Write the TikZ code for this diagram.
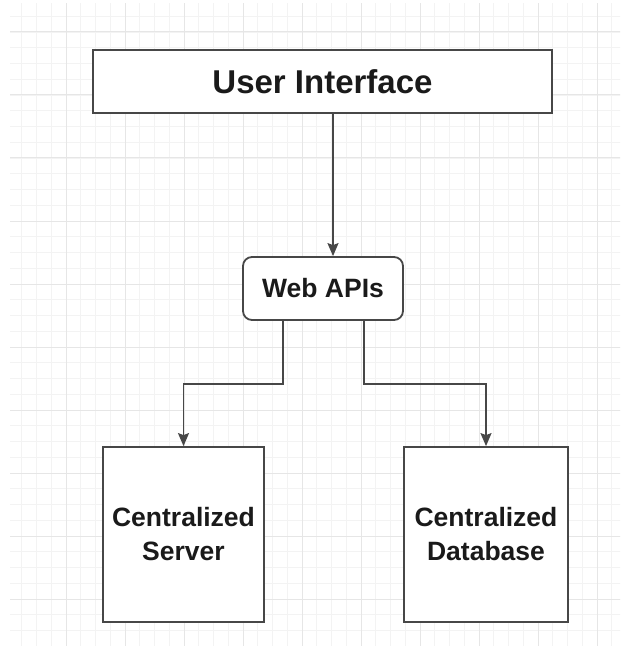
\documentclass[tikz,border=0pt]{standalone}
\usepackage{fontspec}
\setmainfont{Liberation Sans}
\usetikzlibrary{arrows.meta}
\definecolor{edge}{HTML}{474747}
\definecolor{txt}{HTML}{1A1A1A}
\definecolor{gminor}{HTML}{F3F3F3}
\definecolor{gmajor}{HTML}{E6E6E6}
\begin{document}
\begin{tikzpicture}[x=1pt,y=-1pt,
  box/.style={draw=edge,line width=1.8pt,fill=white,text=txt,font=\bfseries,align=center,inner sep=0pt},
  arr/.style={draw=edge,line width=1.6pt,-{Stealth[width=11pt,length=13pt,inset=2pt]}}]
\useasboundingbox (0,0) rectangle (625,655);
\fill[white] (0,0) rectangle (625,655);
\begin{scope}
\clip (10,4) rectangle (620,645);
\foreach \i in {0,...,45} {
  \draw[gminor,line width=0.8pt] ({7+\i*14.75},0) -- ({7+\i*14.75},655);
  \draw[gminor,line width=0.8pt] (0,{0.5+\i*15.75}) -- (625,{0.5+\i*15.75});
}
\foreach \i in {0,...,11} {
  \draw[gmajor,line width=1pt] ({7+\i*59},0) -- ({7+\i*59},655);
  \draw[gmajor,line width=1pt] (0,{32+\i*63}) -- (625,{32+\i*63});
}
\end{scope}
\node[box,minimum width=459pt,minimum height=63pt,font=\bfseries\fontsize{33}{38}\selectfont] (ui) at (322.5,81.5) {User Interface};
\node[box,rounded corners=9pt,minimum width=160pt,minimum height=63pt,font=\bfseries\fontsize{26.5}{30}\selectfont] (web) at (323,288.5) {Web APIs};
\node[box,minimum width=161pt,minimum height=175pt,font=\bfseries\fontsize{26.5}{34}\selectfont] (srv) at (183.5,534.5) {Centralized\\Server\hspace*{0pt}};
\node[box,minimum width=164pt,minimum height=175pt,font=\bfseries\fontsize{26.5}{34}\selectfont] (db) at (486,534.5) {Centralized\\Database};
\coordinate (a1) at (333,0);
\draw[arr] (ui.south -| a1) -- (web.north -| a1);
\draw[arr] ([xshift=-40pt]web.south) -- ++(0,63) -| (srv.north);
\draw[arr] ([xshift=41pt]web.south) -- ++(0,63) -| (db.north);
\end{tikzpicture}
\end{document}
